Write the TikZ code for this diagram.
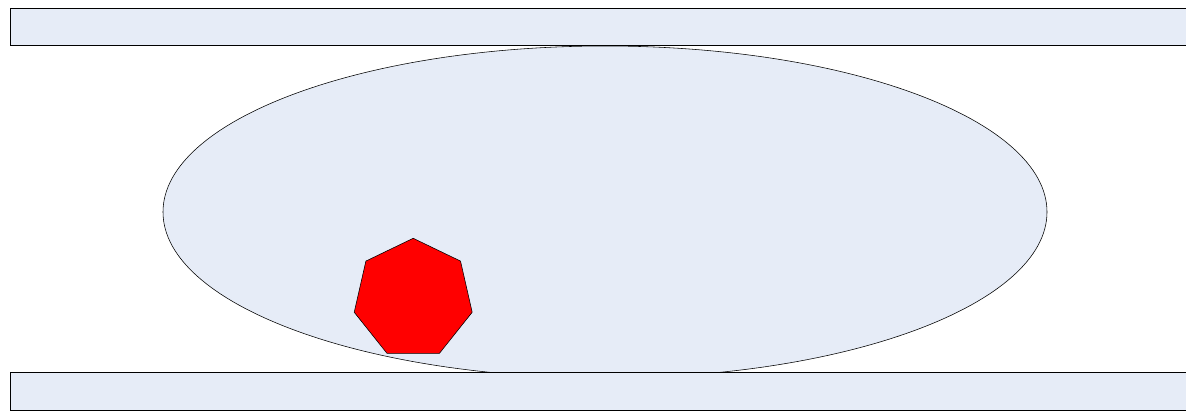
\documentclass[tikz,border=0pt]{standalone}
\usetikzlibrary{shapes.geometric}
\definecolor{paleblue}{RGB}{230,236,247}
\begin{document}
\begin{tikzpicture}[
    wall/.style={rectangle, draw, line width=0.5pt, fill=paleblue, inner sep=0pt, minimum width=29.65cm, minimum height=0.94cm},
    cell/.style={ellipse, draw, thin, fill=paleblue, inner sep=0pt, minimum width=22.1cm, minimum height=8.3cm},
    particle/.style={regular polygon, regular polygon sides=7, draw, thin, fill=#1, inner sep=0pt, minimum size=3.025cm}
]
    \useasboundingbox (0,0) rectangle (29.65,10.275);

    % Cellule
    \node[cell] (cell) at (15.125, 4.975) {};

    % Particule
    \node[particle=red] (hepta) at (10.33, 2.805) {};

    % Parois du canal
    \node[wall] (wallTop) at (15.075, 9.606) {};
    \node[wall] (wallBottom) at (15.075, 0.495) {};

\end{tikzpicture}
\end{document}
